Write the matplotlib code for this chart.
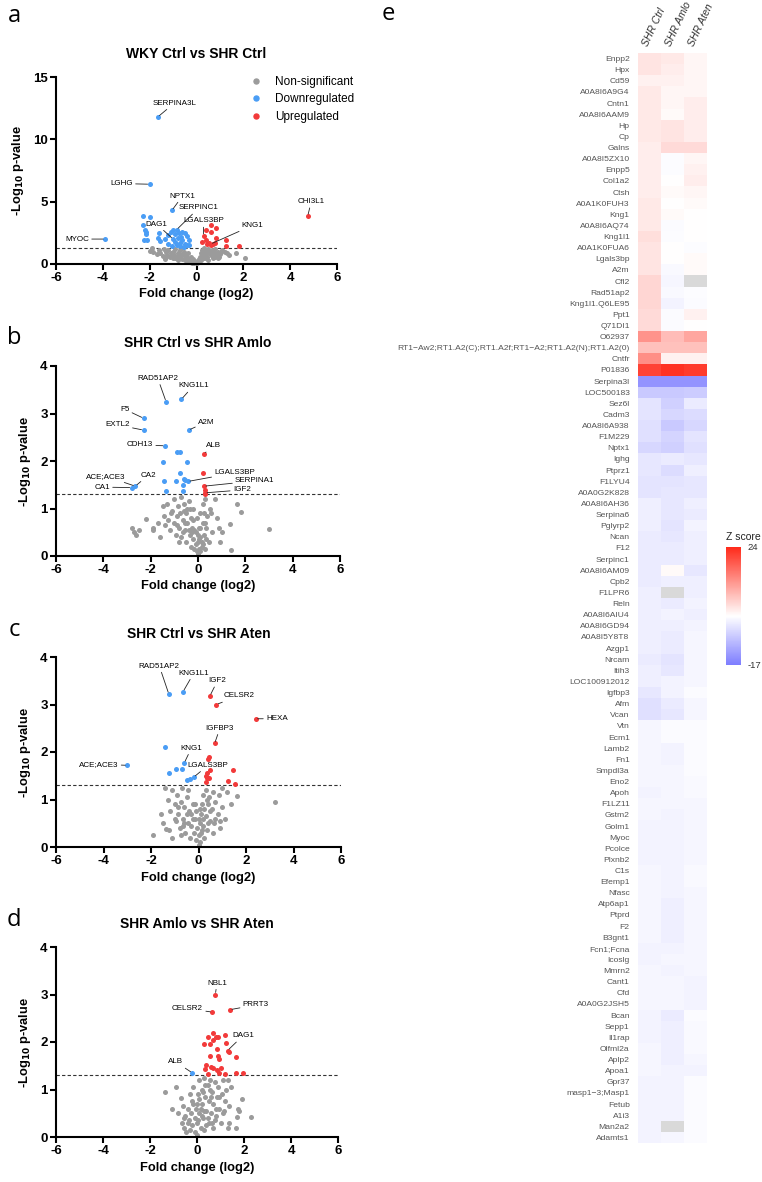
import numpy as np
import matplotlib
matplotlib.use('Agg')
import matplotlib.pyplot as plt
from matplotlib.colors import LinearSegmentedColormap, Normalize
from matplotlib.lines import Line2D

plt.rcParams['font.family'] = ['Liberation Sans', 'DejaVu Sans']
plt.rcParams['axes.unicode_minus'] = False

# ================= Volcano data =================
# Panel a: WKY Ctrl vs SHR Ctrl
a_gray_x = [-1.9, -2.0, -1.85, -1.6, -1.55, -1.4, -1.3, -1.2, -1.1, -1.0, -0.95, -0.9, -0.85, -0.8, -0.75,
            -0.7, -0.65, -0.6, -0.55, -0.5, -0.45, -0.4, -0.35, -0.3, -0.25, -0.2, -0.15, -0.1, -0.05, 0.0,
            0.05, 0.1, 0.15, 0.2, 0.2, 0.25, 0.3, 0.3, 0.35, 0.4, 0.45, 0.5, 0.55, 0.6, 0.65, 0.7, 0.75, 0.8,
            0.85, 0.9, 1.0, 1.1, 1.2, 1.4, 1.7, 2.05, -1.3, -1.0, -0.8, 0.1, 0.5, -1.7, -1.45, -1.15, -0.6,
            -1.25, -1.05, -0.9, -0.7, -0.55, -0.45, -0.35, -0.25, -0.15, 0.15, 0.25, 0.35, 0.45, 0.6, 0.7,
            0.8, 0.95, 1.05, -1.35, -0.75, 0.0, 0.4, 0.9, 1.3]
a_gray_y = [1.3, 1.05, 0.95, 1.1, 0.9, 1.2, 0.95, 1.1, 0.85, 1.0, 0.75, 1.2, 0.6, 0.9, 0.5,
            1.1, 0.7, 0.4, 0.95, 0.3, 0.65, 0.2, 0.5, 0.15, 0.35, 0.1, 0.25, 0.05, 0.15, 0.05,
            0.2, 0.4, 0.6, 0.3, 0.9, 1.1, 0.5, 1.25, 0.8, 1.0, 0.6, 1.2, 0.9, 0.7, 1.1, 0.5, 0.95, 1.2,
            0.7, 1.0, 0.8, 1.15, 0.95, 0.7, 0.9, 0.5, 0.55, 0.45, 0.3, 0.15, 0.3, 0.8, 0.65, 0.6, 1.25,
            0.75, 0.65, 0.5, 0.8, 0.7, 0.45, 0.85, 0.55, 0.4, 0.35, 0.7, 1.05, 0.85, 1.0, 0.85,
            0.6, 0.6, 1.0, 0.4, 0.65, 0.25, 0.45, 0.5, 0.85]
a_down_x = [-1.65, -2.0, -1.05, -3.9, -2.3, -2.0, -2.3, -2.2, -2.15, -2.15, -1.6, -2.25, -2.1, -1.65,
            -1.55, -1.35, -1.2, -1.1, -1.0, -0.85, -0.75, -0.6, -0.5, -0.4, -1.0, -0.9, -0.8, -0.7, -0.6,
            -0.5, -0.4, -1.2, -1.05, -0.85, -0.7, -0.55, -0.3, -0.3, -0.9, -0.65]
a_down_y = [11.8, 6.4, 4.3, 2.0, 3.85, 3.8, 3.1, 2.7, 2.6, 2.4, 2.5, 1.95, 1.95, 2.05,
            1.85, 2.0, 2.3, 2.6, 2.7, 2.75, 2.5, 2.55, 2.5, 2.25, 2.0, 1.8, 2.1, 1.7, 1.9,
            1.6, 1.5, 1.6, 1.45, 1.5, 1.45, 1.4, 1.5, 1.9, 2.4, 2.2]
a_up_x = [4.75, 0.6, 0.4, 0.85, 0.6, 0.3, 0.4, 0.25, 0.55, 0.7, 0.6, 0.8, 0.85, 1.25, 1.25, 1.8, 0.45]
a_up_y = [3.85, 3.1, 2.75, 2.85, 2.6, 2.25, 1.95, 1.75, 1.7, 1.6, 1.55, 1.65, 2.1, 1.9, 1.45, 1.45, 1.6]
a_lab_names = ['SERPINA3L', 'LGHG', 'NPTX1', 'SERPINC1', 'DAG1', 'LGALS3BP', 'KNG1', 'MYOC', 'CHI3L1']
a_lab_x = [-1.65, -2.0, -1.05, -0.85, -1.0, 0.3, 0.6, -3.9, 4.75]
a_lab_y = [11.8, 6.4, 4.3, 2.75, 2.0, 2.25, 1.6, 2.0, 3.85]

# Panel b: SHR Ctrl vs SHR Amlo
b_gray_x = [-1.5, -1.45, -1.4, -1.3, -1.25, -1.2, -1.1, -1.0, -1.0, -0.95, -0.9, -0.85, -0.8, -0.75, -0.7,
            -0.7, -0.65, -0.6, -0.55, -0.5, -0.5, -0.45, -0.4, -0.35, -0.3, -0.3, -0.25, -0.2, -0.2, -0.15,
            -0.1, -0.1, -0.05, 0.0, 0.0, 0.05, 0.05, 0.1, 0.1, 0.15, 0.2, 0.2, 0.25, 0.3, 0.3, 0.35, 0.4,
            0.45, 0.5, 0.55, 0.6, 0.7, 0.8, 0.9, 0.95, 1.0, -1.6, -1.7,
            -2.8, -2.7, -2.6, -2.5, -2.2, -1.9, -1.9, 1.65, 1.8, 1.35, 3.0, 1.4,
            -0.6, -0.4, -0.2, 0.0, 0.15, 0.25, -0.8, -0.35, 0.1, -0.05,
            -1.15, -0.9, -0.55, -0.25, 0.05, 0.2, 0.35, -0.15, -0.45, -0.65, 0.1, 0.3]
b_gray_y = [1.05, 0.85, 0.65, 1.1, 0.75, 0.55, 0.95, 1.2, 0.7, 0.45, 0.85, 1.05, 0.6, 0.9, 1.25,
            0.4, 0.75, 1.1, 0.55, 0.9, 0.3, 0.7, 1.15, 0.45, 0.8, 0.2, 0.6, 0.35, 1.0, 0.15,
            0.5, 0.25, 0.1, 0.3, 0.05, 0.6, 0.15, 0.4, 0.9, 0.2, 0.7, 1.1, 0.45, 0.15, 1.2, 0.6, 0.85,
            0.3, 1.0, 0.9, 0.5, 1.2, 0.8, 0.6, 0.3, 0.5, 0.4, 0.7,
            0.58, 0.5, 0.45, 0.55, 0.78, 0.6, 0.55, 1.1, 0.92, 0.68, 0.57, 0.13,
            0.95, 0.55, 0.75, 0.45, 0.3, 0.9, 0.3, 1.0, 0.1, 0.8,
            0.9, 0.65, 0.7, 0.5, 0.35, 0.25, 0.35, 0.55, 1.0, 0.5, 0.6, 0.7]
b_down_x = [-1.35, -0.7, -2.3, -2.3, -0.4, -1.4, -0.9, -0.75, -1.5, -0.45, -0.75, -0.6, -0.55, -1.45,
            -0.95, -0.65, -2.65, -2.8, -0.42, -1.35, -0.65]
b_down_y = [3.25, 3.3, 2.9, 2.65, 2.65, 2.32, 2.18, 2.2, 1.97, 1.98, 1.75, 1.62, 1.6, 1.58,
            1.58, 1.5, 1.47, 1.44, 1.57, 1.36, 1.37]
b_up_x = [0.25, 0.2, 0.25, 0.3, 0.3, 0.3]
b_up_y = [2.15, 1.75, 1.47, 1.38, 1.33, 1.3]
b_lab_names = ['RAD51AP2', 'KNG1L1', 'F5', 'EXTL2', 'A2M', 'CDH13', 'ALB', 'LGALS3BP', 'SERPINA1',
               'IGF2', 'ACE;ACE3', 'CA2', 'CA1']
b_lab_x = [-1.35, -0.7, -2.3, -2.3, -0.4, -1.4, 0.25, -0.42, 0.25, 0.3, -2.65, -2.65, -2.8]
b_lab_y = [3.25, 3.3, 2.9, 2.65, 2.65, 2.32, 2.15, 1.57, 1.47, 1.33, 1.47, 1.47, 1.44]

# Panel c: SHR Ctrl vs SHR Aten
c_gray_x = [-1.4, -1.3, -1.2, -1.1, -1.0, -0.95, -0.9, -0.85, -0.8, -0.75, -0.7, -0.65, -0.6, -0.55, -0.5,
            -0.45, -0.4, -0.35, -0.3, -0.25, -0.2, -0.15, -0.1, -0.05, 0.0, 0.0, 0.05, 0.05, 0.1, 0.1,
            0.15, 0.2, 0.2, 0.25, 0.3, 0.3, 0.35, 0.4, 0.45, 0.5, 0.55, 0.6, 0.65, 0.7, 0.8, 0.85, 0.9,
            1.0, 1.0, 1.1, 1.2, -1.5, -1.6,
            3.2, 1.6, -1.9, -1.35, -1.25, 1.35, -1.1,
            -0.6, -0.3, 0.0, 0.15, 0.25, -0.75, -0.15, 0.4, 0.6, -0.45,
            -1.0, -0.85, -0.5, -0.25, -0.1, 0.05, 0.2, 0.35, 0.5, 0.7, 0.9, -0.65]
c_gray_y = [1.25, 1.0, 0.75, 1.2, 0.9, 0.55, 1.1, 0.7, 0.4, 0.95, 1.25, 0.6, 0.85, 0.3, 1.05,
            0.5, 0.75, 0.2, 0.45, 0.9, 0.3, 0.6, 0.15, 0.4, 0.05, 0.25, 0.5, 0.1, 0.7, 0.3,
            0.9, 0.45, 1.1, 0.2, 0.65, 1.2, 0.35, 0.9, 1.05, 0.55, 0.8, 1.15, 0.5, 0.95, 0.7, 1.1, 0.4,
            0.85, 1.25, 0.6, 1.15, 0.5, 0.7,
            0.95, 1.07, 0.25, 0.38, 0.35, 0.9, 0.2,
            0.5, 0.7, 0.6, 0.35, 0.8, 0.25, 0.9, 0.5, 0.3, 1.2,
            0.6, 0.85, 0.7, 0.6, 0.75, 0.8, 0.6, 1.0, 0.75, 0.6, 0.55, 0.45]
c_down_x = [-1.25, -0.65, -1.4, -0.6, -3.0, -1.25, -0.95, -0.7, -0.5, -0.35, -0.2]
c_down_y = [3.22, 3.27, 2.1, 1.77, 1.72, 1.55, 1.65, 1.65, 1.42, 1.43, 1.47]
c_up_x = [0.48, 0.75, 2.4, 0.68, 0.45, 0.42, 0.35, 0.3, 0.5, 0.35, 0.45, 0.3, 1.45, 1.25, 1.55]
c_up_y = [3.18, 3.0, 2.7, 2.18, 1.9, 1.85, 1.55, 1.5, 1.63, 1.45, 1.45, 1.37, 1.63, 1.38, 1.32]
c_lab_names = ['RAD51AP2', 'KNG1L1', 'IGF2', 'CELSR2', 'HEXA', 'IGFBP3', 'KNG1', 'ACE;ACE3', 'LGALS3BP']
c_lab_x = [-1.25, -0.65, 0.48, 0.75, 2.4, 0.68, -0.6, -3.0, -0.2]
c_lab_y = [3.22, 3.27, 3.18, 3.0, 2.7, 2.18, 1.77, 1.72, 1.47]

# Panel d: SHR Amlo vs SHR Aten
d_gray_x = [-0.8, -0.7, -0.65, -0.6, -0.55, -0.5, -0.45, -0.4, -0.35, -0.3, -0.3, -0.25, -0.2, -0.2, -0.15,
            -0.1, -0.1, -0.05, 0.0, 0.0, 0.05, 0.1, 0.1, 0.15, 0.2, 0.2, 0.25, 0.3, 0.3, 0.35, 0.4, 0.45,
            0.5, 0.5, 0.55, 0.6, 0.65, 0.7, 0.7, 0.75, 0.8, 0.85, 0.9, 0.95, 1.0, 1.05, 1.1, 1.15, 1.2,
            1.25, 1.3, 1.35, 1.3, 1.35,
            -1.35, -1.05, 2.3, 1.8, 1.75, 1.7, 1.65, 1.9, 1.45, -0.9,
            0.05, 0.15, 0.25, 0.4, 0.6, 0.8, 0.0, 0.2,
            -0.4, -0.15, 0.1, 0.3, 0.45, 0.55, 0.75, 0.95, 1.1, -0.55, 0.35, 0.65]
d_gray_y = [0.5, 0.82, 0.3, 0.65, 0.2, 0.45, 0.1, 0.6, 0.35, 0.9, 0.15, 0.5, 0.75, 0.25, 1.05,
            0.4, 0.1, 0.6, 0.05, 0.3, 0.9, 0.5, 1.2, 0.2, 0.7, 1.0, 0.4, 1.25, 0.15, 0.85, 0.55, 1.1,
            0.3, 0.75, 1.2, 0.5, 0.95, 0.2, 0.7, 1.15, 0.45, 0.85, 1.05, 0.6, 0.3, 0.9, 1.2, 0.55, 0.75,
            1.0, 0.2, 0.3, 1.2, 0.65,
            0.95, 0.58, 0.42, 0.55, 0.6, 0.43, 0.2, 0.8, 1.05, 1.05,
            0.35, 0.6, 0.95, 0.25, 0.85, 0.6, 0.7, 0.45,
            0.3, 0.7, 0.8, 0.55, 0.4, 1.0, 0.35, 0.85, 0.5, 0.4, 1.1, 0.3]
d_down_x = [-0.2]
d_down_y = [1.35]
d_up_x = [0.78, 0.65, 1.4, 1.3, 0.7, 0.45, 0.7, 0.8, 0.9, 1.2, 1.25, 0.3, 0.55, 0.85, 1.35, 0.55, 0.9,
          0.95, 1.65, 0.4, 0.6, 0.7, 0.85, 1.0, 0.35, 1.65, 1.95, 0.95, 0.45, 1.2]
d_up_y = [3.0, 2.63, 2.68, 1.82, 2.2, 2.1, 2.05, 2.1, 2.1, 2.15, 1.98, 1.95, 1.95, 1.85, 1.8, 1.7, 1.7,
          1.65, 1.68, 1.52, 1.47, 1.45, 1.42, 1.45, 1.43, 1.35, 1.35, 1.35, 1.32, 1.32]
d_lab_names = ['NBL1', 'CELSR2', 'PRRT3', 'DAG1', 'ALB']
d_lab_x = [0.78, 0.65, 1.4, 1.3, -0.2]
d_lab_y = [3.0, 2.63, 2.68, 1.82, 1.35]

titles = ['WKY Ctrl vs SHR Ctrl', 'SHR Ctrl vs SHR Amlo', 'SHR Ctrl vs SHR Aten', 'SHR Amlo vs SHR Aten']
panel_letters = ['a', 'b', 'c', 'd']
legend_labels = ['Non-significant', 'Downregulated', 'Upregulated']
x_ticks = [-6, -4, -2, 0, 2, 4, 6]
a_y_ticks = [0, 5, 10, 15]
bcd_y_ticks = [0, 1, 2, 3, 4]
threshold = 1.3

# ================= Heatmap data =================
hm_rows = ['Enpp2', 'Hpx', 'Cd59', 'A0A8I6A9G4', 'Cntn1', 'A0A8I6AAM9', 'Hp', 'Cp', 'Galns', 'A0A8I5ZX10',
           'Enpp5', 'Col1a2', 'Ctsh', 'A0A1K0FUH3', 'Kng1', 'A0A8I6AQ74', 'Kng1l1', 'A0A1K0FUA6', 'Lgals3bp',
           'A2m', 'Cfl2', 'Rad51ap2', 'Kng1l1.Q6LE95', 'Ppt1', 'Q71DI1', 'O62937',
           'RT1\u2212Aw2;RT1.A2(C);RT1.A2f;RT1\u2212A2;RT1.A2(N);RT1.A2(0)', 'Cntfr', 'P01836', 'Serpina3l',
           'LOC500183', 'Sez6l', 'Cadm3', 'A0A8I6A938', 'F1M229', 'Nptx1', 'Ighg', 'Ptprz1', 'F1LYU4',
           'A0A0G2K828', 'A0A8I6AH36', 'Serpina6', 'Pglyrp2', 'Ncan', 'F12', 'Serpinc1', 'A0A8I6AM09', 'Cpb2',
           'F1LPR6', 'Reln', 'A0A8I6AIU4', 'A0A8I6GD94', 'A0A8I5Y8T8', 'Azgp1', 'Nrcam', 'Itih3',
           'LOC100912012', 'Igfbp3', 'Afm', 'Vcan', 'Vtn', 'Ecm1', 'Lamb2', 'Fn1', 'Smpdl3a', 'Eno2', 'Apoh',
           'F1LZ11', 'Gstm2', 'Golm1', 'Myoc', 'Pcolce', 'Plxnb2', 'C1s', 'Efemp1', 'Nfasc', 'Atp6ap1', 'Ptprd',
           'F2', 'B3gnt1', 'Fcn1;Fcna', 'Icoslg', 'Mmrn2', 'Cant1', 'Cfd', 'A0A0G2JSH5', 'Bcan', 'Sepp1',
           'Il1rap', 'Olfml2a', 'Aplp2', 'Apoa1', 'Gpr37', 'masp1\u22123;Masp1', 'Fetub', 'A1i3', 'Man2a2',
           'Adamts1']
hm_cols = ['SHR Ctrl', 'SHR Amlo', 'SHR Aten']
nan = np.nan
shr_ctrl = [3.0, 3.0, 1.5, 2.5, 2.5, 2.5, 2.5, 2.5, 2.0, 2.0, 2.0, 2.0, 2.0, 2.5, 2.5, 2.5, 3.5, 3.0, 3.0,
            3.0, 4.5, 4.5, 4.5, 4.0, 4.0, 12.0, 7.0, 12.5, 21.0, -14.0, -7.0, -3.5, -3.5, -4.0, -4.0, -5.0,
            -3.0, -3.0, -3.5, -3.5, -2.0, -2.0, -2.0, -2.5, -2.5, -2.5, -2.5, -2.5, -2.0, -2.0, -2.0, -2.0,
            -2.0, -2.0, -2.5, -2.0, -2.0, -3.0, -4.0, -4.0, -1.0, -1.0, -1.0, -1.0, -1.0, -1.0, -1.5, -1.0,
            -1.0, -1.5, -1.5, -1.5, -1.5, -1.0, -1.0, -1.0, -1.0, -1.0, -1.0, -1.0, -1.5, -1.5, -1.0, -1.0,
            -1.0, -1.0, -1.5, -1.5, -1.5, -1.0, -1.0, -1.0, -1.5, -1.5, -1.5, -1.5, -1.5, -1.5]
shr_amlo = [2.5, 2.0, 1.5, 1.0, 1.0, 0.5, 3.0, 3.0, 4.0, -0.3, -0.3, 0.0, 0.5, 0.0, 0.5, -0.5, -0.3, 0.0, 0.0,
            -0.8, -1.0, -0.8, -1.5, -0.5, -0.5, 7.5, 7.0, 1.5, 23.0, -14.0, -7.0, -6.0, -5.0, -7.0, -5.5, -6.0,
            -2.5, -4.5, -3.5, -3.0, -3.0, -3.0, -3.5, -3.0, -2.5, -2.5, 0.5, -2.0, nan, -2.5, -1.5, -2.0,
            -2.5, -2.5, -3.5, -3.0, -1.5, -1.5, -2.5, -3.0, -0.5, -0.5, -1.5, -1.5, -1.0, -1.0, -1.0, -1.0,
            -1.5, -1.5, -1.5, -1.5, -1.5, -1.5, -1.5, -1.5, -2.0, -2.0, -2.0, -2.0, -1.5, -1.0, -1.5, -1.0,
            -1.0, -1.0, -2.5, -2.0, -2.0, -2.0, -2.0, -1.5, -1.5, -1.5, -1.5, -1.5, nan, -1.0]
shr_aten = [1.0, 1.0, 1.0, 1.0, 2.0, 2.0, 2.0, 2.0, 4.0, 1.0, 1.5, 2.0, 1.0, 0.5, 0.0, 0.0, 0.0, -0.3, 0.5,
            0.5, nan, -0.3, -0.5, 1.5, 0.0, 10.0, 7.0, 1.5, 22.0, -14.0, -6.5, -2.5, -4.5, -5.0, -3.5, -4.0,
            -3.0, -2.0, -3.0, -3.0, -2.0, -2.5, -1.5, -2.0, -2.0, -2.0, -3.0, -2.0, -2.0, -1.5, -2.0, -1.5,
            -1.0, -1.0, -1.0, -1.0, -1.0, -0.5, -1.0, -1.0, -0.5, -0.5, -0.5, -0.5, -0.5, -0.8, -0.8, -1.0,
            -1.0, -1.0, -1.0, -1.0, -1.0, -0.8, -0.8, -1.0, -1.0, -1.0, -1.0, -1.0, -1.0, -1.0, -1.0, -1.5,
            -1.5, -1.5, -0.5, -0.8, -0.8, -0.8, -1.0, -1.5, -0.5, -0.5, -0.5, -0.5, -0.5, -0.5]
z_min, z_max = -17, 24

# ================= Layout / style =================
W, H = 762, 1182
C_GRAY, C_BLUE, C_RED = '#9b9b9b', '#4a9df5', '#f23a3a'

label_text_pos = [
    {'SERPINA3L': (-0.95, 12.9), 'LGHG': (-3.2, 6.45), 'NPTX1': (-0.6, 5.45), 'SERPINC1': (0.1, 4.5),
     'DAG1': (-1.7, 3.2), 'LGALS3BP': (0.3, 3.45), 'KNG1': (2.4, 3.1), 'MYOC': (-5.1, 2.0),
     'CHI3L1': (4.9, 5.0)},
    {'RAD51AP2': (-1.7, 3.74), 'KNG1L1': (-0.2, 3.58), 'F5': (-3.1, 3.09), 'EXTL2': (-3.4, 2.76),
     'A2M': (0.35, 2.82), 'CDH13': (-2.45, 2.34), 'ALB': (0.65, 2.32), 'LGALS3BP': (1.55, 1.75),
     'SERPINA1': (2.4, 1.58), 'IGF2': (1.85, 1.39), 'ACE;ACE3': (-3.9, 1.68), 'CA2': (-2.1, 1.7),
     'CA1': (-4.05, 1.45)},
    {'RAD51AP2': (-1.65, 3.81), 'KNG1L1': (-0.2, 3.66), 'IGF2': (0.8, 3.5), 'CELSR2': (1.7, 3.18),
     'HEXA': (3.3, 2.7), 'IGFBP3': (0.9, 2.5), 'KNG1': (-0.3, 2.08), 'ACE;ACE3': (-4.2, 1.74),
     'LGALS3BP': (0.4, 1.72)},
    {'NBL1': (0.85, 3.24), 'CELSR2': (-0.4, 2.7), 'PRRT3': (2.5, 2.78), 'DAG1': (1.95, 2.13),
     'ALB': (-0.9, 1.58)},
]

# axes pixel boxes (left, top, right, bottom)
vol_boxes = [(56, 77, 337, 264), (56, 366, 340, 556), (56, 657, 341, 847), (56, 947, 338, 1137)]
letter_pos = [(14, 16), (14, 338), (14, 630), (14, 920)]

panels = [
    (a_gray_x, a_gray_y, a_down_x, a_down_y, a_up_x, a_up_y, a_lab_names, a_lab_x, a_lab_y, 15, a_y_ticks),
    (b_gray_x, b_gray_y, b_down_x, b_down_y, b_up_x, b_up_y, b_lab_names, b_lab_x, b_lab_y, 4, bcd_y_ticks),
    (c_gray_x, c_gray_y, c_down_x, c_down_y, c_up_x, c_up_y, c_lab_names, c_lab_x, c_lab_y, 4, bcd_y_ticks),
    (d_gray_x, d_gray_y, d_down_x, d_down_y, d_up_x, d_up_y, d_lab_names, d_lab_x, d_lab_y, 4, bcd_y_ticks),
]

fig = plt.figure(figsize=(W / 100, H / 100), dpi=100)


def px_axes(box):
    l, t, r, b = box
    return fig.add_axes([l / W, 1 - b / H, (r - l) / W, (b - t) / H])


for i, (gx, gy, dx, dy, ux, uy, names, lx, ly, ymax, yt) in enumerate(panels):
    ax = px_axes(vol_boxes[i])
    ms = 13
    ax.scatter(gx, gy, s=ms, color=C_GRAY, linewidths=0, zorder=2, clip_on=False)
    ax.scatter(dx, dy, s=ms, color=C_BLUE, linewidths=0, zorder=3, clip_on=False)
    ax.scatter(ux, uy, s=ms, color=C_RED, linewidths=0, zorder=3, clip_on=False)
    ax.axhline(threshold, color='#333333', lw=0.8, ls=(0, (3, 2)), zorder=1)
    ax.set_xlim(-6, 6)
    ax.set_ylim(0, ymax)
    ax.set_xticks(x_ticks)
    ax.set_yticks(yt)
    for s in ['top', 'right']:
        ax.spines[s].set_visible(False)
    for s in ['left', 'bottom']:
        ax.spines[s].set_linewidth(1.5)
    ax.tick_params(direction='out', length=4, width=1.5, labelsize=9.5, pad=2)
    for t in ax.get_xticklabels() + ax.get_yticklabels():
        t.set_fontweight('bold')
    ax.set_xlabel('Fold change (log2)', fontsize=9.3, fontweight='bold', labelpad=3)
    ax.set_ylabel('-Log$_{\\mathbf{10}}$ p-value', fontsize=9.3, fontweight='bold', labelpad=5)
    ax.set_title(titles[i], fontsize=10, fontweight='bold', pad=14)
    tp = label_text_pos[i]
    for n, x, y in zip(names, lx, ly):
        tx, ty = tp[n]
        ax.annotate(n, xy=(x, y), xytext=(tx, ty), fontsize=5.8, ha='center', va='center',
                    arrowprops=dict(arrowstyle='-', lw=0.6, color='#222222', shrinkA=0, shrinkB=1.5),
                    zorder=5, annotation_clip=False)
    if i == 0:
        handles = [Line2D([], [], marker='o', ls='', color=c, markersize=3.6) for c in (C_GRAY, C_BLUE, C_RED)]
        ax.legend(handles, legend_labels, loc='upper right', bbox_to_anchor=(1.06, 1.005), frameon=False,
                  fontsize=8.5, handlelength=0.8, handletextpad=1.2, labelspacing=0.45, borderpad=0,
                  borderaxespad=0)
    lx_, ly_ = letter_pos[i]
    fig.text(lx_ / W, 1 - ly_ / H, panel_letters[i], fontsize=17, family='Open Sans', ha='center', va='center')

# ================= Heatmap =================
hm = np.array([shr_ctrl, shr_amlo, shr_aten]).T
cmap = LinearSegmentedColormap.from_list(
    'zs', [(0.0, '#7d7dff'), (17 / 41, '#ffffff'), (1.0, '#ff2a1a')])
cmap.set_bad('#d9d9d9')
norm = Normalize(vmin=z_min, vmax=z_max)
hax = px_axes((638, 53, 707, 1143))
hax.imshow(np.ma.masked_invalid(hm), cmap=cmap, norm=norm, aspect='auto', interpolation='nearest')
for s in hax.spines.values():
    s.set_visible(False)
hax.set_yticks(range(len(hm_rows)))
hax.set_yticklabels(hm_rows, fontsize=6.1, color='#555555')
hax.tick_params(axis='y', length=0, pad=6)
hax.xaxis.tick_top()
hax.set_xticks(range(len(hm_cols)))
hax.set_xticklabels(hm_cols, rotation=65, ha='left', va='bottom', rotation_mode='anchor',
                    fontsize=7.5, style='italic', color='#333333')
hax.tick_params(axis='x', length=0, pad=4)

cax = px_axes((726, 547, 741, 665))
sm = plt.cm.ScalarMappable(norm=norm, cmap=cmap)
cb = fig.colorbar(sm, cax=cax, ticks=[z_min, z_max])
cb.outline.set_visible(False)
cb.ax.tick_params(length=0, labelsize=6.8, pad=5, colors='#333333')
cb.ax.set_yticklabels(['-17', '24'])
fig.text(726 / W, 1 - 537 / H, 'Z score', fontsize=7.5, ha='left', va='center', color='#222222')

fig.text(388 / W, 1 - 14 / H, 'e', fontsize=17, family='Open Sans', ha='center', va='center')

fig.savefig('out.png', dpi=100)
